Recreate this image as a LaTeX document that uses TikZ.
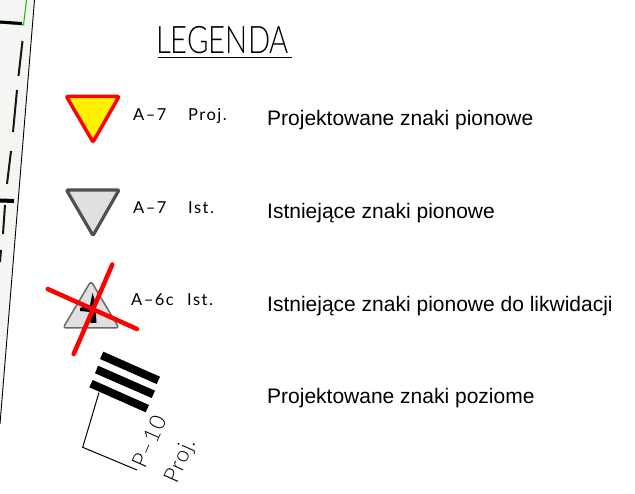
\documentclass[tikz,border=0pt]{standalone}
\usepackage{fontspec}
\setmainfont{Liberation Sans}
\newfontfamily\cadfont{Lato Light}
\newfontfamily\codefont[LetterSpace=9]{Lato}
\newfontfamily\rotfont[LetterSpace=5]{Lato Light}
\definecolor{strip}{HTML}{F5F5F3}
\definecolor{signgrey}{HTML}{E0E0E0}
\definecolor{edgegrey}{HTML}{505050}
\definecolor{cadgreen}{HTML}{00C000}
\tikzset{
 desc/.style={anchor=base west,inner sep=0pt,font=\fontsize{21}{24}\selectfont},
 code/.style={anchor=base west,inner sep=0pt,font=\codefont\fontsize{16.5}{18}\selectfont,text=black},
 rotcode/.style={anchor=base west,inner sep=0pt,font=\rotfont\fontsize{22}{24}\selectfont,text=black,rotate=66,transform shape},
 sign/.style={line join=round,rounded corners=1pt},
 cross/.style={red,line width=4.5pt,line cap=round},
 bar/.style={fill=black,draw=none},
 dashmark/.style={black!85!brown,line width=2pt}
}
\begin{document}
\begin{tikzpicture}[x=1pt,y=-1pt]
\useasboundingbox (0,0) rectangle (635,494);
% sheet strip
\fill[strip] (0,0) -- (34.5,0) -- (0,424) -- cycle;
\draw[black,line width=0.9pt] (34.5,0) -- (0,424);
\draw[cadgreen,line width=1pt] (26.5,0) -- (23.5,25) -- (0,23);
\draw[black,line width=3pt] (0,22) -- (22,23.5);
\draw[dashmark] (22.5,41) -- (18.5,76);
\draw[dashmark] (17,90) -- (13,132);
\draw[dashmark] (11,151) -- (7,184);
\draw[black,line width=4pt] (0,200.5) -- (14,201);
\draw[dashmark] (5,205) -- (3,234);
\draw[dashmark] (1,250) -- (0,262);
% title
\node[anchor=base west,inner sep=0pt,font=\cadfont\fontsize{38}{40}\selectfont,xscale=0.77,transform shape] (title) at (156,54) {LEGENDA};
\draw[black,line width=1.4pt] (158,57.5) -- (292,57.5);
% yield proj
\draw[sign,draw=red,fill=yellow,line width=3.5pt] (66.5,96.5) -- (119,96.5) -- (93,142) -- cycle;
\node[code] (c1) at (133,121) {A–7};
\node[code] (p1) at (188,121) {Proj.};
\node[desc] (d1) at (267,126) {Projektowane znaki pionowe};
% yield existing
\draw[sign,draw=edgegrey,fill=signgrey,line width=3.2pt] (66.5,190) -- (119,190) -- (93,235.5) -- cycle;
\node[code] (c2) at (133,214) {A–7};
\node[code] (p2) at (188,214) {Ist.};
\node[desc] (d2) at (267,219) {Istniejące znaki pionowe};
% removed sign
\draw[sign,draw=edgegrey!85,fill=signgrey,line width=1.5pt,rounded corners=3pt] (91,281) -- (119,328) -- (63,328) -- cycle;
\fill[black] (92.5,293) -- (96,304) -- (95.5,306) -- (96.5,323) -- (90.5,323) -- (90,312) -- (80,311) -- (80,308) -- (90,305) -- cycle;
\draw[cross] (47.7,289) -- (137,329);
\draw[cross] (112.3,264.5) -- (73.7,354);
\node[code] (c3) at (131,306) {A–6c};
\node[code] (p3) at (187,306) {Ist.};
\node[desc] (d3) at (267,312) {Istniejące znaki pionowe do likwidacji};
% horizontal marking
\fill[bar] (103.3,351.7) -- (160,376.7) -- (156.7,384) -- (100,359) -- cycle;
\fill[bar] (98,365.7) -- (155,390.7) -- (151.7,398) -- (95,373.3) -- cycle;
\fill[bar] (92.7,380) -- (149,405) -- (145.7,412.3) -- (89.3,387.3) -- cycle;
\draw[black,line width=1pt,line join=miter] (99,392.5) -- (82.7,447.3) -- (137,470);
\node[rotcode] (c4) at (145,470) {P–10};
\node[rotcode] (p4) at (176.7,485) {Proj.};
\node[desc] (d4) at (267,404) {Projektowane znaki poziome};
\end{tikzpicture}
\end{document}
